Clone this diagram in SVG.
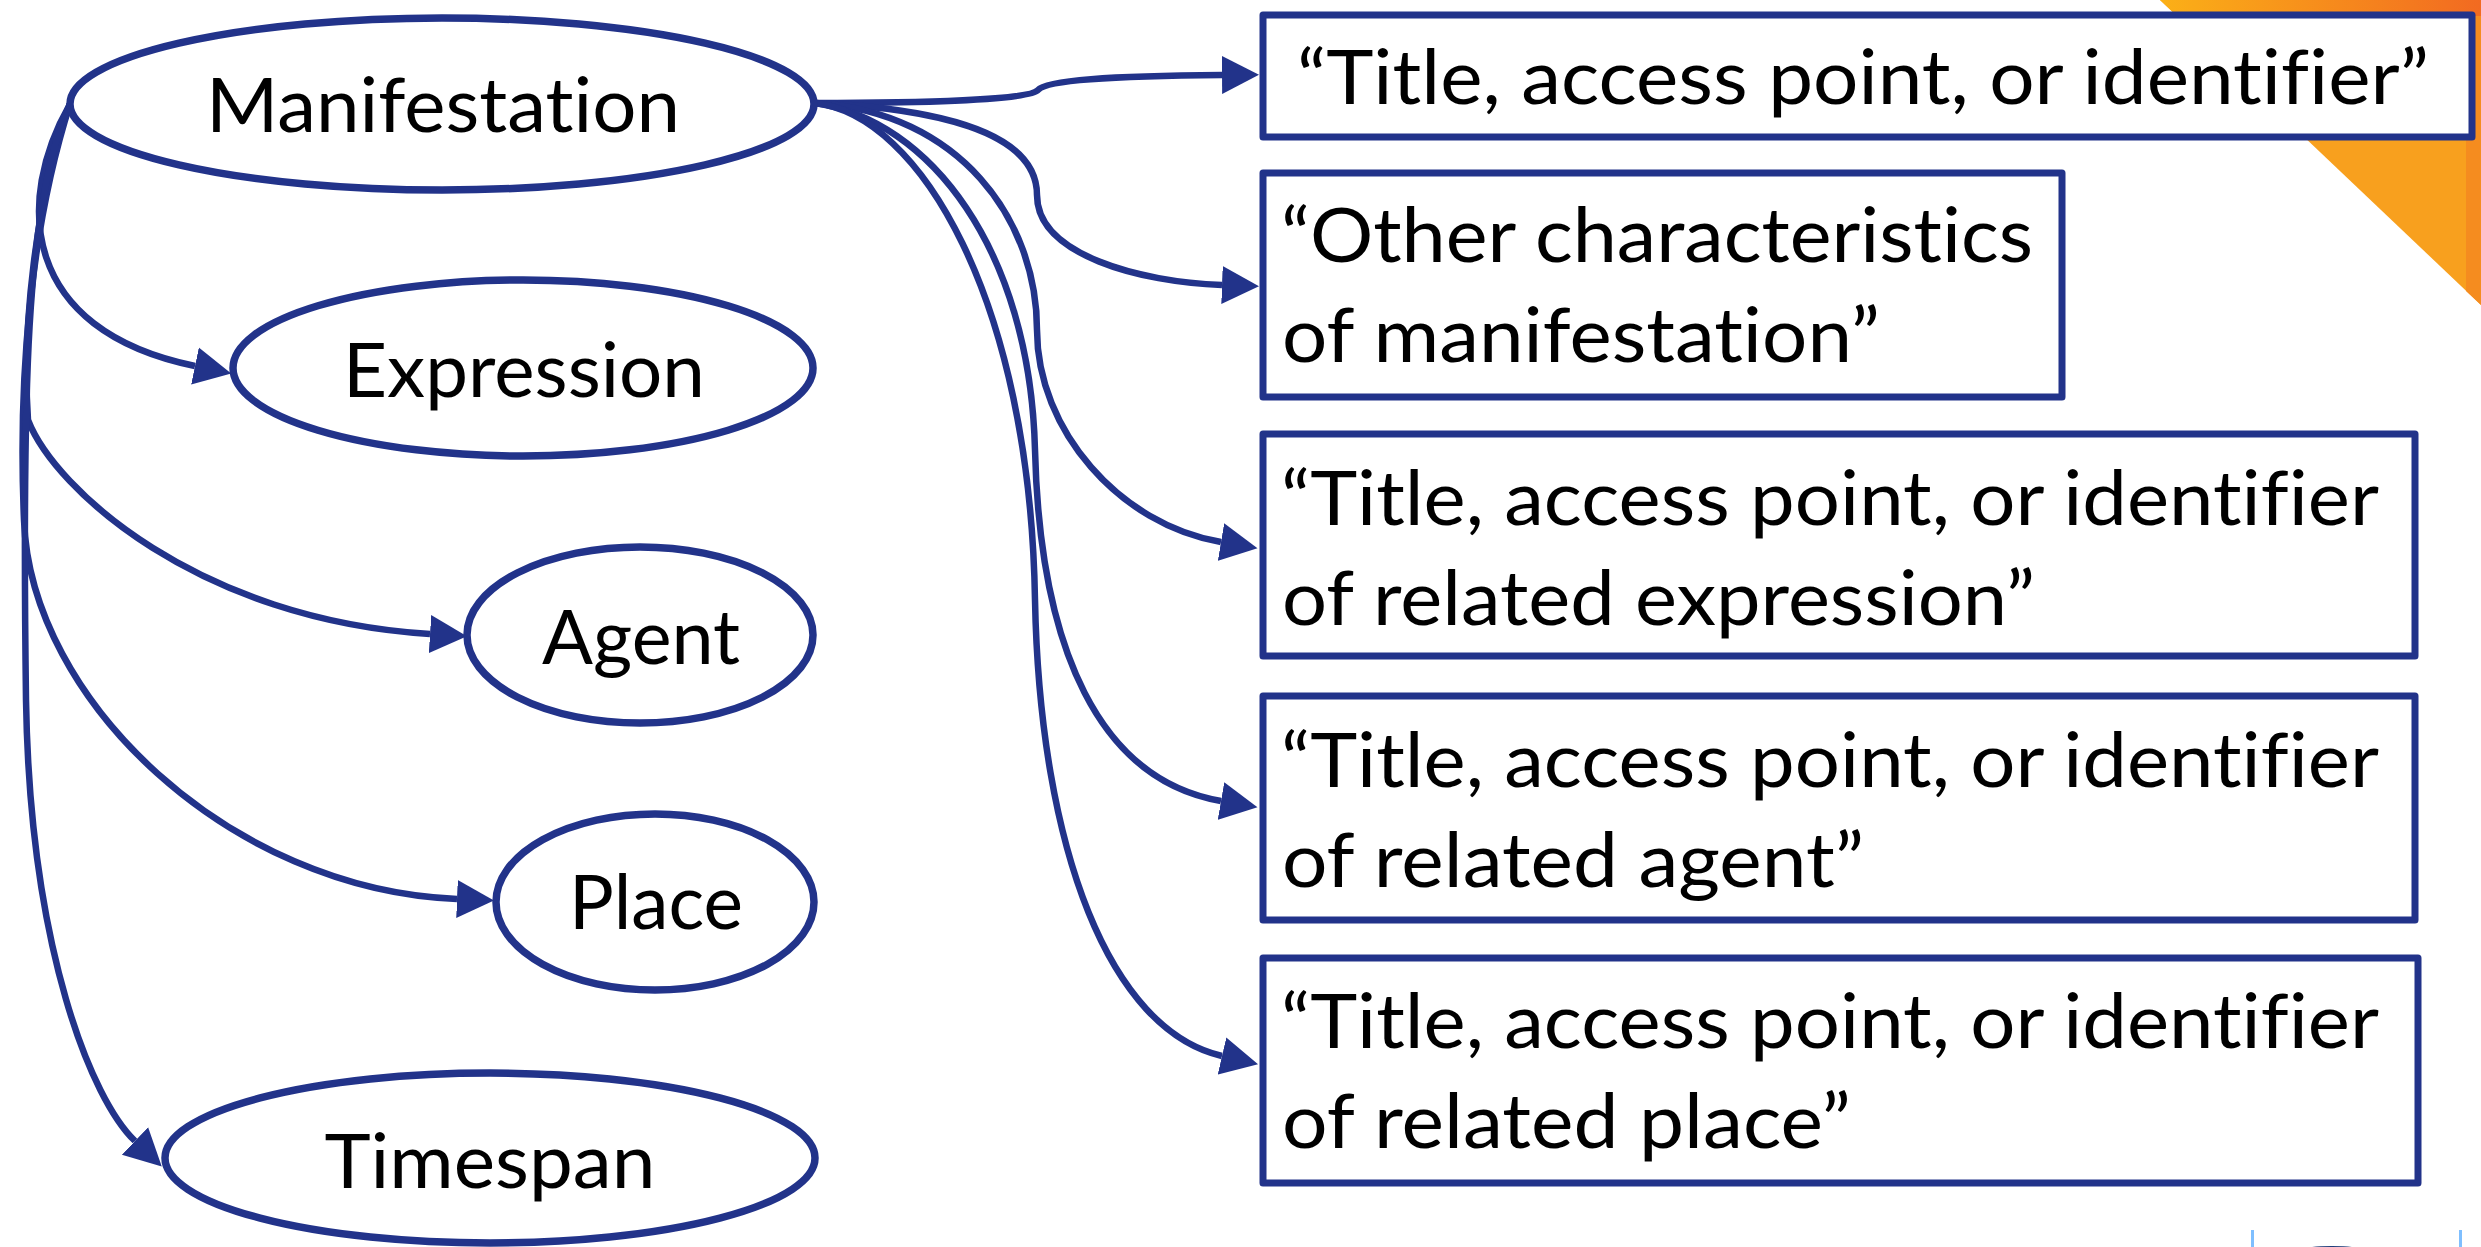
<svg xmlns="http://www.w3.org/2000/svg" width="2481" height="1247" viewBox="0 0 2481 1247">
<style>
.node{fill:#fff;stroke:#22338A;stroke-width:7.5}
.box{fill:#fff;stroke:#22338A;stroke-width:7;stroke-linejoin:round}
.conn{fill:none;stroke:#22338A;stroke-width:6.5;marker-end:url(#arr)}
.t{font-family:Lato,"Open Sans","Liberation Sans",sans-serif;font-size:76px;fill:#000;font-variant-ligatures:none;font-feature-settings:"liga" 0,"dlig" 0}
.c{text-anchor:middle}
</style>
<defs>
<marker id="arr" markerUnits="userSpaceOnUse" markerWidth="40" markerHeight="40" viewBox="0 0 40 40" refX="0" refY="20" orient="auto">
<path d="M0,1 L37,20 L0,39 z" fill="#22338A"/>
</marker>
<linearGradient id="og" x1="2160" y1="0" x2="2481" y2="0" gradientUnits="userSpaceOnUse">
<stop offset="0" stop-color="#FBB017"/>
<stop offset="1" stop-color="#F26A21"/>
</linearGradient>
</defs>
<rect width="2481" height="1247" fill="#fff"/>
<g id="decor">
<polygon points="2160,0 2481,0 2481,305" fill="#F8A01E"/>
<polygon points="2160,0 2481,0 2481,16 2177,16" fill="url(#og)"/>
<polygon points="2466,16 2481,16 2481,305 2466,291" fill="#F58C1F"/>
<rect x="2251" y="1230" width="3" height="17" fill="#7FBFFF"/>
<rect x="2459" y="1230" width="3" height="17" fill="#7FBFFF"/>
<ellipse cx="2332" cy="1250" rx="30" ry="4" fill="#1F3E7A"/>
</g>
<g id="connectors">
<path class="conn" d="M70,104 C15,200 20,330 195,366"/>
<path class="conn" d="M70,104 C35,200 22,330 28,420 C55,490 200,620 430,634"/>
<path class="conn" d="M70,104 C30,230 18,380 24,520 C30,700 230,890 457,899"/>
<path class="conn" d="M70,104 C25,200 22,400 26,700 C30,950 92,1100 135,1141"/>
<path class="conn" d="M815,103 C920,103 1030,100 1038,90 C1046,80 1110,76 1222,75"/>
<path class="conn" d="M815,103 C930,108 1037,130 1037,195 C1037,255 1140,282 1222,285"/>
<path class="conn" d="M815,103 C960,112 1037,220 1037,330 C1037,430 1120,525 1221,542"/>
<path class="conn" d="M815,103 C930,120 1030,250 1035,450 C1040,650 1100,780 1221,801"/>
<path class="conn" d="M815,103 C920,115 1030,300 1035,600 C1040,850 1110,1030 1222,1056"/>
</g>
<g id="manifestation">
<ellipse class="node" cx="442" cy="104" rx="372" ry="86"/>
<text class="t c" x="443" y="132" textLength="474" lengthAdjust="spacingAndGlyphs">Manifestation</text>
</g>
<g id="expression">
<ellipse class="node" cx="523" cy="368" rx="290" ry="88"/>
<text class="t c" x="524" y="397" textLength="362" lengthAdjust="spacingAndGlyphs">Expression</text>
</g>
<g id="agent">
<ellipse class="node" cx="640" cy="635" rx="173" ry="88"/>
<text class="t c" x="641" y="664" textLength="198" lengthAdjust="spacingAndGlyphs">Agent</text>
</g>
<g id="place">
<ellipse class="node" cx="655" cy="902" rx="159" ry="88"/>
<text class="t c" x="656" y="929" textLength="174" lengthAdjust="spacingAndGlyphs">Place</text>
</g>
<g id="timespan">
<ellipse class="node" cx="490" cy="1158" rx="325" ry="85"/>
<text class="t c" x="490" y="1188" textLength="331" lengthAdjust="spacingAndGlyphs">Timespan</text>
</g>
<g id="box1">
<rect class="box" x="1263" y="15" width="1209" height="122"/>
<text class="t" x="1297" y="104" textLength="1132" lengthAdjust="spacingAndGlyphs">“Title, access point, or identifier”</text>
</g>
<g id="box2">
<rect class="box" x="1263" y="173" width="799" height="224"/>
<text class="t" x="1281" y="262" textLength="752" lengthAdjust="spacingAndGlyphs">“Other characteristics</text>
<text class="t" x="1282" y="362" textLength="598" lengthAdjust="spacingAndGlyphs">of manifestation”</text>
</g>
<g id="box3">
<rect class="box" x="1263" y="434" width="1152" height="222"/>
<text class="t" x="1281" y="525" textLength="1098" lengthAdjust="spacingAndGlyphs">“Title, access point, or identifier</text>
<text class="t" x="1282" y="625" textLength="753" lengthAdjust="spacingAndGlyphs">of related expression”</text>
</g>
<g id="box4">
<rect class="box" x="1263" y="696" width="1152" height="224"/>
<text class="t" x="1281" y="787" textLength="1098" lengthAdjust="spacingAndGlyphs">“Title, access point, or identifier</text>
<text class="t" x="1282" y="887" textLength="582" lengthAdjust="spacingAndGlyphs">of related agent”</text>
</g>
<g id="box5">
<rect class="box" x="1263" y="958" width="1155" height="225"/>
<text class="t" x="1281" y="1048" textLength="1098" lengthAdjust="spacingAndGlyphs">“Title, access point, or identifier</text>
<text class="t" x="1282" y="1148" textLength="569" lengthAdjust="spacingAndGlyphs">of related place”</text>
</g>
</svg>
